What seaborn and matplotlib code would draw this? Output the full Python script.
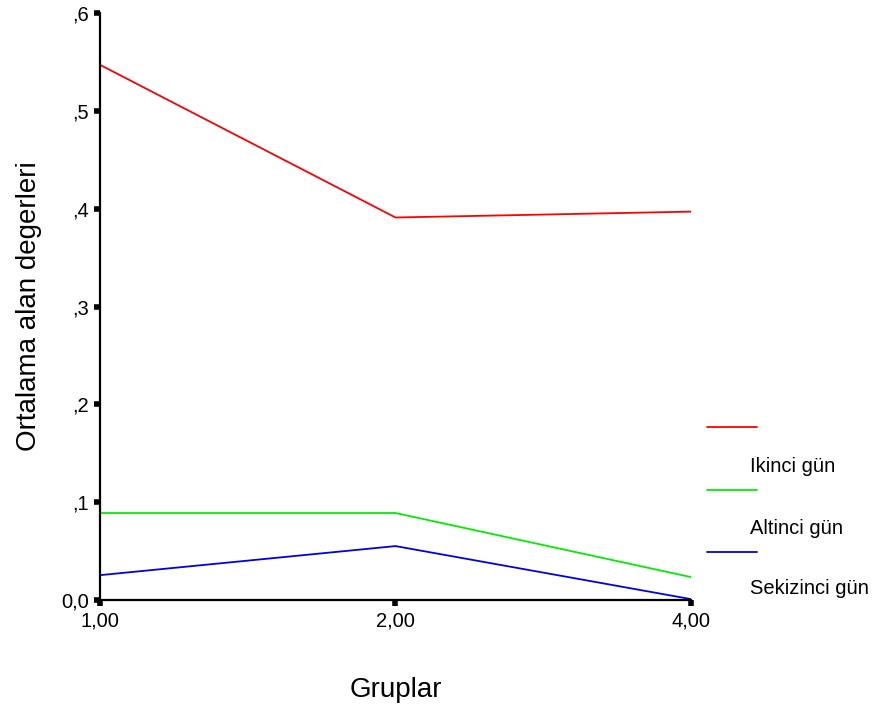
import seaborn as sns
import matplotlib.pyplot as plt
import pandas as pd
from matplotlib.lines import Line2D

# chart data
groups = ["1,00", "2,00", "4,00"]
series_names = ["Ikinci gün", "Altinci gün", "Sekizinci gün"]
ikinci = [0.547, 0.391, 0.397]
altinci = [0.089, 0.089, 0.0235]
sekizinci = [0.0255, 0.0552, 0.001]
y_ticks = [0.0, 0.1, 0.2, 0.3, 0.4, 0.5, 0.6]
y_tick_labels = ["0,0", ",1", ",2", ",3", ",4", ",5", ",6"]
colors = ["#ff0000", "#00ee00", "#0000ee"]

df = pd.DataFrame({
    "Gruplar": groups * 3,
    "deger": ikinci + altinci + sekizinci,
    "seri": [s for s in series_names for _ in groups],
})

sns.set_style("white")
plt.rcParams["font.family"] = ["Liberation Sans", "DejaVu Sans"]
plt.rcParams["text.color"] = "black"
plt.rcParams["axes.labelcolor"] = "black"

fig = plt.figure(figsize=(8.72, 7.06), dpi=100)
ax = fig.add_axes([0.1147, 0.150, 0.6777, 0.8316])

sns.lineplot(data=df, x="Gruplar", y="deger", hue="seri",
             palette=colors, linewidth=1.3, legend=False, ax=ax)

ax.set_xlim(0, 2)
ax.set_ylim(0, 0.6)
ax.set_yticks(y_ticks)
ax.set_yticklabels(y_tick_labels)
ax.tick_params(axis="both", direction="out", length=4, width=4,
               color="black", labelcolor="black", labelsize=14.5, pad=4,
               left=True, bottom=True)
for side in ["top", "right"]:
    ax.spines[side].set_visible(False)
for side in ["left", "bottom"]:
    ax.spines[side].set_color("black")
    ax.spines[side].set_linewidth(1.6)

ax.set_xlabel("Gruplar", fontsize=20, labelpad=34)
ax.set_ylabel("Ortalama alan degerleri", fontsize=20, labelpad=14)

# SPSS style legend: line, then label shifted below it
line_y = [427, 490, 552]
text_y = [466, 528, 589]
W, H = 872, 706
for c, ly, ty, name in zip(colors, line_y, text_y, series_names):
    fig.add_artist(Line2D([707 / W, 757 / W], [1 - ly / H, 1 - ly / H],
                          color=c, linewidth=1.3))
    fig.text(750 / W, 1 - ty / H, name, fontsize=14.5, va="center", ha="left")

fig.savefig("out.png", dpi=100)
